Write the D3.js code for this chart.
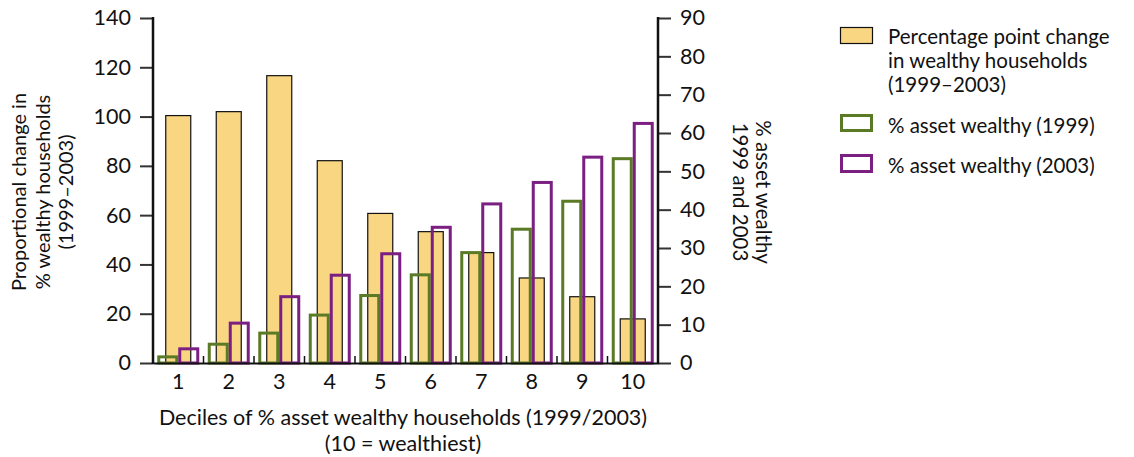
<!DOCTYPE html>
<html>
<head>
<meta charset="utf-8">
<script src="https://cdn.jsdelivr.net/npm/d3@7"></script>
<style>
  body { margin: 0; background: #fff; }
  svg text { font-family: Lato, "Open Sans", sans-serif; fill: #111; }
</style>
</head>
<body>
<script>
var deciles = ["1", "2", "3", "4", "5", "6", "7", "8", "9", "10"];
var pointChange = [100.4, 102, 116.6, 82.1, 60.7, 53.3, 44.8, 34.5, 26.9, 17.9];
var wealthy1999 = [1.6, 4.9, 7.8, 12.5, 17.6, 23.0, 28.8, 34.9, 42.2, 53.3];
var wealthy2003 = [3.7, 10.4, 17.3, 22.9, 28.5, 35.4, 41.5, 47.1, 53.7, 62.5];
var leftTicks = [0, 20, 40, 60, 80, 100, 120, 140];
var rightTicks = [0, 10, 20, 30, 40, 50, 60, 70, 80, 90];

var yellow = "#f9d682", green = "#5a7a26", purple = "#7b1f83";

var svg = d3.select("body").append("svg")
  .attr("width", 1134)
  .attr("height", 457);

var x = d3.scaleBand().domain(deciles).range([153, 658]);
var yL = d3.scaleLinear().domain([0, 140]).range([363, 18]);
var yR = d3.scaleLinear().domain([0, 90]).range([363, 18]);

// bars
var g = svg.append("g");
var cx = function (d) { return x(d) + x.bandwidth() / 2; };

g.selectAll(".chg").data(deciles).enter().append("rect")
  .attr("x", d => cx(d) - 12.5)
  .attr("y", (d, i) => yL(pointChange[i]))
  .attr("width", 25)
  .attr("height", (d, i) => yL(0) - yL(pointChange[i]))
  .attr("fill", yellow)
  .attr("stroke", "#111")
  .attr("stroke-width", 1.2);

g.selectAll(".w99").data(deciles).enter().append("rect")
  .attr("x", d => cx(d) - 19.5)
  .attr("y", (d, i) => yR(wealthy1999[i]))
  .attr("width", 18)
  .attr("height", (d, i) => yR(0) - yR(wealthy1999[i]))
  .attr("fill", "none")
  .attr("stroke", green)
  .attr("stroke-width", 3);

g.selectAll(".w03").data(deciles).enter().append("rect")
  .attr("x", d => cx(d) + 1.5)
  .attr("y", (d, i) => yR(wealthy2003[i]))
  .attr("width", 18)
  .attr("height", (d, i) => yR(0) - yR(wealthy2003[i]))
  .attr("fill", "none")
  .attr("stroke", purple)
  .attr("stroke-width", 3);

// axes
var axL = svg.append("g").attr("transform", "translate(153,0)")
  .call(d3.axisLeft(yL).tickValues(leftTicks).tickSize(13).tickPadding(9));
var axR = svg.append("g").attr("transform", "translate(658,0)")
  .call(d3.axisRight(yR).tickValues(rightTicks).tickSize(13).tickPadding(9));
[axL, axR].forEach(function (a) {
  a.select(".domain").remove();
  a.selectAll(".tick line").attr("stroke", "#333").attr("stroke-width", 2);
  a.selectAll(".tick text").attr("font-size", 21.5).attr("fill", "#111");
});
svg.append("line").attr("x1", 153).attr("x2", 153).attr("y1", 17).attr("y2", 364)
  .attr("stroke", "#111").attr("stroke-width", 2.5);
svg.append("line").attr("x1", 658).attr("x2", 658).attr("y1", 17).attr("y2", 364)
  .attr("stroke", "#111").attr("stroke-width", 2.5);

var axB = svg.append("g").attr("transform", "translate(0,363)")
  .call(d3.axisBottom(x).tickSize(0).tickPadding(11));
axB.select(".domain").attr("stroke", "#111").attr("stroke-width", 2);
axB.selectAll(".tick text").attr("font-size", 21.5).attr("fill", "#111");

// small separator ticks between deciles
svg.append("g").selectAll("line").data(deciles.slice(1)).enter().append("line")
  .attr("x1", d => x(d)).attr("x2", d => x(d))
  .attr("y1", 363).attr("y2", 356)
  .attr("stroke", "#111").attr("stroke-width", 1.5);

// axis titles
var lt = svg.append("text").attr("transform", "translate(0,192) rotate(-90)")
  .attr("text-anchor", "middle").attr("font-size", 20);
["Proportional change in", "% wealthy households", "(1999\u20132003)"].forEach(function (s, i) {
  lt.append("tspan").attr("x", 0).attr("y", 26 + i * 23.5).text(s);
});

var rt = svg.append("text").attr("transform", "translate(0,192) rotate(90)")
  .attr("text-anchor", "middle").attr("font-size", 20.5);
["% asset wealthy", "1999 and 2003"].forEach(function (s, i) {
  rt.append("tspan").attr("x", 0).attr("y", -756 + i * 23.5).text(s);
});

var bt = svg.append("text").attr("text-anchor", "middle").attr("font-size", 21.5);
["Deciles of % asset wealthy households (1999/2003)", "(10 = wealthiest)"].forEach(function (s, i) {
  bt.append("tspan").attr("x", 403).attr("y", 425 + i * 26).text(s);
});

// legend
var lg = svg.append("g");
lg.append("rect").attr("x", 840.5).attr("y", 27.5).attr("width", 32).attr("height", 16)
  .attr("fill", yellow).attr("stroke", "#111").attr("stroke-width", 1.2);
var l1 = lg.append("text").attr("font-size", 20.5);
["Percentage point change", "in wealthy households", "(1999\u20132003)"].forEach(function (s, i) {
  l1.append("tspan").attr("x", 888).attr("y", 44 + i * 24).text(s);
});
lg.append("rect").attr("x", 841.5).attr("y", 115.5).attr("width", 30).attr("height", 15)
  .attr("fill", "none").attr("stroke", green).attr("stroke-width", 3);
lg.append("text").attr("x", 888).attr("y", 133).attr("font-size", 20.5).text("% asset wealthy (1999)");
lg.append("rect").attr("x", 841.5).attr("y", 155.5).attr("width", 30).attr("height", 16)
  .attr("fill", "none").attr("stroke", purple).attr("stroke-width", 3);
lg.append("text").attr("x", 888).attr("y", 173).attr("font-size", 20.5).text("% asset wealthy (2003)");
</script>
</body>
</html>
